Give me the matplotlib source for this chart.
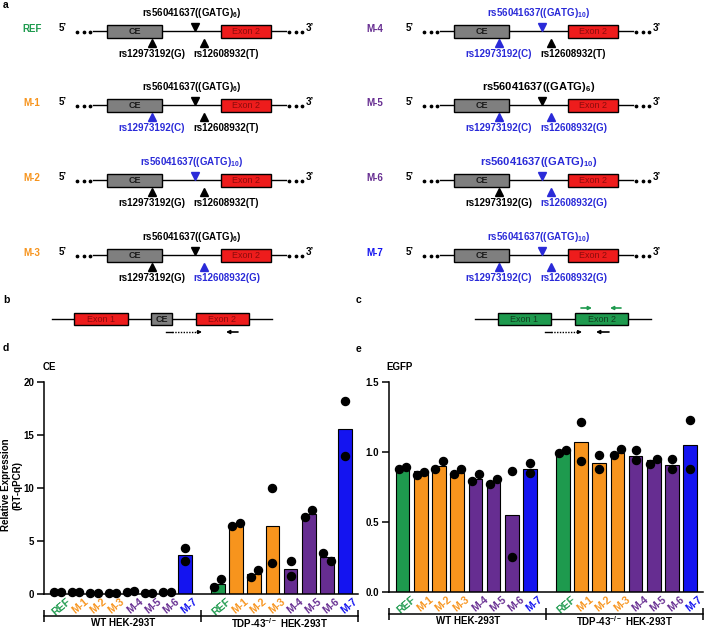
import matplotlib
matplotlib.use('Agg')
import matplotlib.pyplot as plt
import matplotlib.transforms as mtransforms
from matplotlib.patches import Rectangle
import numpy as np

plt.rcParams['font.family'] = ['Liberation Sans', 'DejaVu Sans']
plt.rcParams['font.weight'] = 'bold'
plt.rcParams['font.size'] = 7
plt.rcParams['mathtext.fontset'] = 'custom'
plt.rcParams['mathtext.rm'] = 'Liberation Sans:bold'
plt.rcParams['mathtext.it'] = 'Liberation Sans:bold'
plt.rcParams['mathtext.bf'] = 'Liberation Sans:bold'
plt.rcParams['mathtext.default'] = 'rm'

# ---------------- data ----------------
variants = ['REF', 'M-1', 'M-2', 'M-3', 'M-4', 'M-5', 'M-6', 'M-7']
gatg_repeat = [6, 6, 10, 6, 10, 6, 10, 10]          # rs56041637
snp_12973192 = ['G', 'C', 'G', 'G', 'C', 'C', 'G', 'C']
snp_12608932 = ['T', 'T', 'T', 'G', 'T', 'G', 'G', 'G']

# CE (RT-qPCR), bars and the two replicates
ce_wt_bar = [0.2, 0.2, 0.1, 0.08, 0.22, 0.1, 0.15, 3.65]
ce_wt_pts = [(0.2, 0.2), (0.2, 0.22), (0.1, 0.1), (0.05, 0.1), (0.15, 0.3),
             (0.1, 0.1), (0.15, 0.17), (4.3, 3.1)]
ce_ko_bar = [0.97, 6.55, 1.9, 6.45, 2.35, 7.55, 3.5, 15.5]
ce_ko_pts = [(0.7, 1.4), (6.45, 6.7), (1.6, 2.3), (10.0, 2.9), (3.1, 1.65),
             (7.3, 7.95), (3.9, 3.15), (18.2, 13.0)]

# EGFP
egfp_wt_bar = [0.88, 0.862, 0.898, 0.85, 0.805, 0.788, 0.55, 0.876]
egfp_wt_pts = [(0.874, 0.893), (0.833, 0.852), (0.88, 0.936), (0.838, 0.876),
               (0.79, 0.838), (0.77, 0.807), (0.864, 0.25), (0.92, 0.845)]
egfp_ko_bar = [1.005, 1.07, 0.92, 0.988, 0.97, 0.94, 0.905, 1.045]
egfp_ko_pts = [(0.993, 1.012), (1.21, 0.936), (0.976, 0.876), (0.974, 1.017),
               (1.012, 0.94), (0.91, 0.95), (0.95, 0.874), (1.226, 0.874)]

GREEN = '#1e9a4e'
ORANGE = '#f7941d'
PURPLE = '#662d91'
BLUE = '#1414f0'
TXTBLUE = '#2a2ad8'
variant_color = [GREEN, ORANGE, ORANGE, ORANGE, PURPLE, PURPLE, PURPLE, BLUE]

fig = plt.figure(figsize=(7.06, 6.29), dpi=100)

# full-figure axes in pixel units for the schematics
ax0 = fig.add_axes([0, 0, 1, 1])
ax0.set_xlim(0, 706)
ax0.set_ylim(629, 0)
ax0.axis('off')


def box(x0, x1, yc, face, label, tcolor, weight='normal', h=13):
    ax0.add_patch(Rectangle((x0, yc - h / 2), x1 - x0, h, facecolor=face,
                            edgecolor='black', lw=1.0, zorder=3))
    ax0.text((x0 + x1) / 2, yc + 0.5, label, color=tcolor, fontsize=6.5,
             weight=weight, ha='center', va='center', zorder=4)


def locus(i, dx, lab_x, y):
    ax0.text(lab_x, y - 2, variants[i], color=variant_color[i], ha='center',
             va='center', fontsize=7)
    ax0.text(63 + dx, y - 3, '5\u2019', ha='center', va='center', fontsize=7)
    ax0.plot(np.array([77, 83.5, 90]) + dx, [y + 1] * 3, 'o', color='k', ms=1.7)
    ax0.plot([93 + dx, 286 + dx], [y, y], color='k', lw=1.0, zorder=2)
    box(107 + dx, 162 + dx, y, '#7f7f7f', 'CE', '#1a1a1a', weight='bold')
    box(221 + dx, 271 + dx, y, '#ee1c1c', 'Exon 2', '#8c0c0c')
    ax0.plot(np.array([289, 295.5, 302]) + dx, [y + 1] * 3, 'o', color='k', ms=1.7)
    ax0.text(310 + dx, y - 3, '3\u2019', ha='center', va='center', fontsize=7)

    c_rep = TXTBLUE if gatg_repeat[i] == 10 else 'black'
    c_s1 = TXTBLUE if snp_12973192[i] == 'C' else 'black'
    c_s2 = TXTBLUE if snp_12608932[i] == 'G' else 'black'
    big = 8 if i in (5, 6) else 7
    ax0.plot(195 + dx, y - 4, 'v', color=c_rep, ms=5.5)
    ax0.text(192 + dx, y - 18, 'rs56041637((GATG)$_{%d}$)' % gatg_repeat[i],
             color=c_rep, ha='center', va='center', fontsize=big)
    ax0.plot(152 + dx, y + 12, '^', color=c_s1, ms=5.5)
    ax0.plot(204 + dx, y + 12, '^', color=c_s2, ms=5.5)
    ax0.text(152 + dx, y + 23, 'rs12973192(%s)' % snp_12973192[i], color=c_s1,
             ha='center', va='center')
    ax0.text(193 + dx, y + 23, 'rs12608932(%s)' % snp_12608932[i], color=c_s2,
             ha='left', va='center')


row_y = [31, 105, 180, 255]
for k in range(4):
    locus(k, 0, 32, row_y[k])
    locus(k + 4, 347, 375, row_y[k])

# panel letters
for txt, x, y in [('a', 3, 5), ('b', 3, 300), ('c', 356, 300),
                  ('d', 3, 348), ('e', 356, 349)]:
    ax0.text(x, y, txt, ha='left', va='center', fontsize=7.5)


def arrow(x0, x1, y, color='k', dotted=False):
    if dotted:
        ax0.plot([x0, x0 + 6], [y, y], color=color, lw=1.0)
        ax0.plot([x0 + 6, x1 - 3], [y, y], color=color, lw=1.0, ls=(0, (1, 1)))
        ax0.annotate('', xy=(x1, y), xytext=(x1 - 5, y),
                     arrowprops=dict(arrowstyle='-|>', color=color, lw=1.0,
                                     mutation_scale=5, shrinkA=0, shrinkB=0))
    else:
        ax0.annotate('', xy=(x1, y), xytext=(x0, y),
                     arrowprops=dict(arrowstyle='-|>', color=color, lw=1.2,
                                     mutation_scale=5, shrinkA=0, shrinkB=0))


# panel b
ax0.plot([52, 272], [319, 319], color='k', lw=1.0, zorder=2)
box(74, 128, 319, '#ee1c1c', 'Exon 1', '#8c0c0c', h=12)
box(151, 172, 319, '#7f7f7f', 'CE', '#1a1a1a', weight='bold', h=12)
box(196, 249, 319, '#ee1c1c', 'Exon 2', '#8c0c0c', h=12)
arrow(166, 202, 332, dotted=True)
arrow(238, 226, 332)

# panel c
ax0.plot([475, 651], [319, 319], color='k', lw=1.0, zorder=2)
box(498, 551, 319, GREEN, 'Exon 1', '#123d20', h=12)
box(575, 628, 319, GREEN, 'Exon 2', '#123d20', h=12)
arrow(581, 592, 308, color=GREEN)
arrow(621, 610, 308, color=GREEN)
arrow(545, 582, 332, dotted=True)
arrow(609, 596, 332)

# ---------------- bar panels ----------------
pos = np.concatenate([np.arange(8), np.arange(8) + 8.8])
XMIN, XMAX = -0.75, 16.5
MID = 7.9


def bar_panel(ax, wt_bar, wt_pts, ko_bar, ko_pts, ymax, yticks, ylabels):
    heights = list(wt_bar) + list(ko_bar)
    pts = list(wt_pts) + list(ko_pts)
    ax.bar(pos, heights, width=0.75, color=variant_color * 2,
           edgecolor='black', linewidth=0.8, zorder=2)
    for x, (a, b) in zip(pos, pts):
        if abs(a - b) < 0.04 * ymax:
            xs = [x - 0.2, x + 0.2]
        else:
            xs = [x, x]
        ax.plot(xs, [a, b], 'o', color='black', ms=5.8, clip_on=False, zorder=4)
    ax.set_xlim(XMIN, XMAX)
    ax.set_ylim(0, ymax)
    ax.set_yticks(yticks)
    ax.set_yticklabels(ylabels)
    ax.spines['top'].set_visible(False)
    ax.spines['right'].set_visible(False)
    ax.spines['left'].set_linewidth(1.1)
    ax.spines['bottom'].set_linewidth(1.1)
    ax.tick_params(axis='y', length=5, width=1.1, pad=2, labelsize=7)
    ax.tick_params(axis='x', length=0, pad=2, labelsize=7.5)
    ax.set_xticks(pos)
    ax.set_xticklabels(variants * 2, rotation=40, ha='right',
                       rotation_mode='anchor')
    off = mtransforms.ScaledTranslation(0.08, 0, fig.dpi_scale_trans)
    for lab, c in zip(ax.get_xticklabels(), variant_color * 2):
        lab.set_color(c)
        lab.set_transform(lab.get_transform() + off)

    # group brackets
    down = mtransforms.ScaledTranslation(0, -0.22, fig.dpi_scale_trans)
    tr = mtransforms.blended_transform_factory(ax.transData, ax.transAxes + down)
    ax.plot([XMIN, XMAX], [0, 0], color='k', lw=1.1, transform=tr, clip_on=False)
    ax.plot([XMIN, MID, XMAX], [0, 0, 0], '|', color='k', ms=8, mew=1.1,
            transform=tr, clip_on=False)
    down2 = mtransforms.ScaledTranslation(0, -0.29, fig.dpi_scale_trans)
    tr2 = mtransforms.blended_transform_factory(ax.transData, ax.transAxes + down2)
    ax.text((XMIN + MID) / 2, 0, 'WT HEK-293T', transform=tr2, ha='center',
            va='center', fontsize=7)
    ax.text((MID + XMAX) / 2, 0, 'TDP-43$^{-/-}$ HEK-293T', transform=tr2,
            ha='center', va='center', fontsize=7)


axd = fig.add_axes([44 / 706, 35 / 629, 314 / 706, 212.3 / 629])
bar_panel(axd, ce_wt_bar, ce_wt_pts, ce_ko_bar, ce_ko_pts, 20,
          [0, 5, 10, 15, 20], ['0', '5', '10', '15', '20'])

axe = fig.add_axes([389 / 706, 37.3 / 629, 314 / 706, 210 / 629])
bar_panel(axe, egfp_wt_bar, egfp_wt_pts, egfp_ko_bar, egfp_ko_pts, 1.5,
          [0, 0.5, 1.0, 1.5], ['0.0', '0.5', '1.0', '1.5'])

fig.text(43 / 706, 1 - 367 / 629, 'CE', ha='left', va='center', fontsize=7)
fig.text(386 / 706, 1 - 367 / 629, 'EGFP', ha='left', va='center', fontsize=7)
fig.text(11.5 / 706, 1 - 485 / 629, 'Relative Expression\n(RT-qPCR)', rotation=90,
         ha='center', va='center', multialignment='center', fontsize=7,
         linespacing=1.15)

fig.savefig('out.png', dpi=100)
